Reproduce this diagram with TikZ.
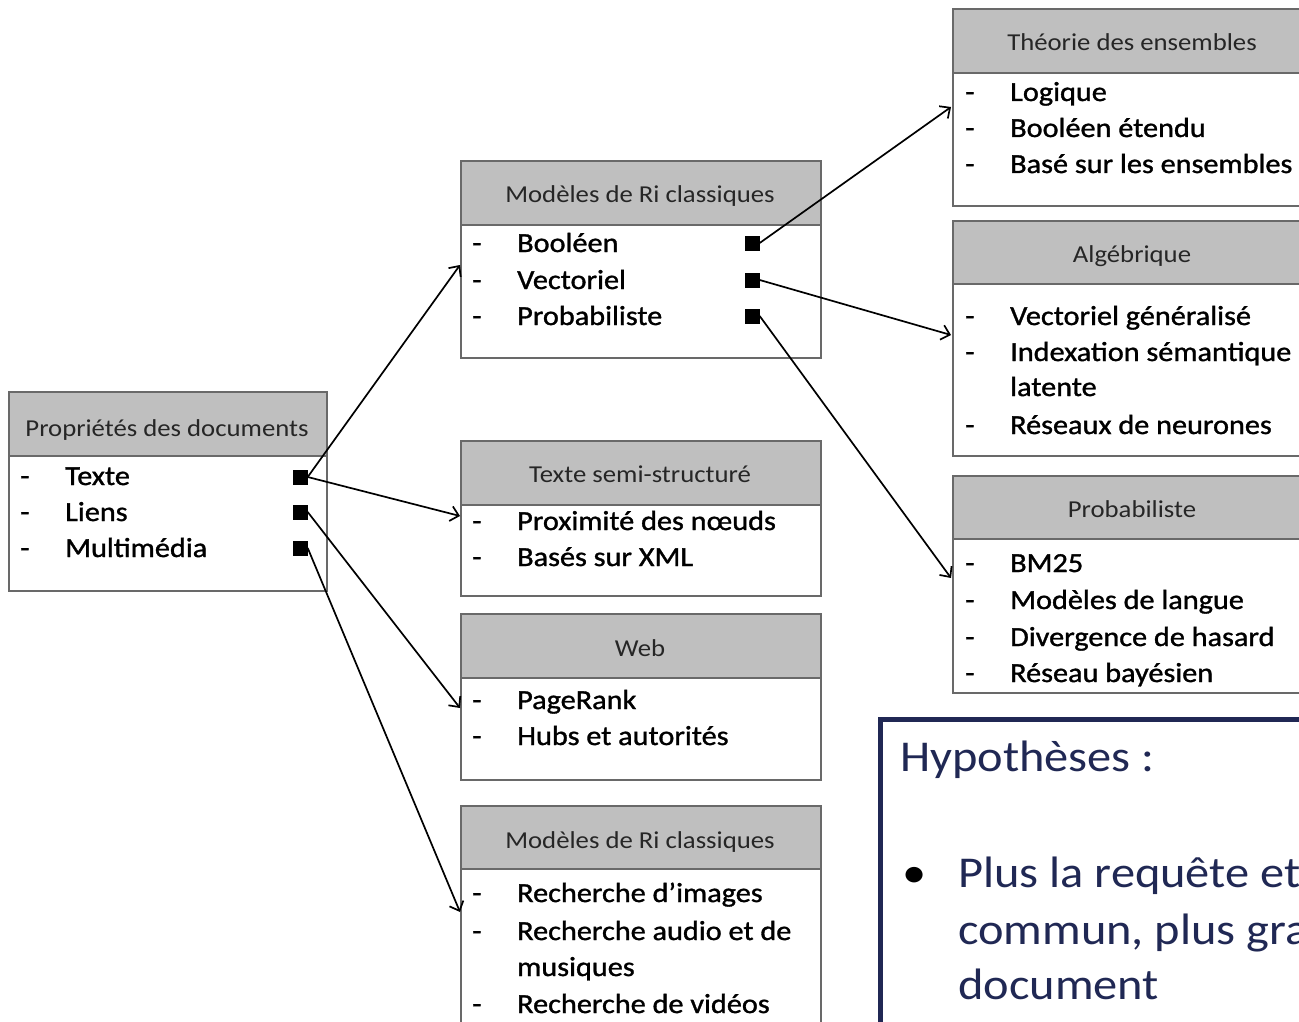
\documentclass[tikz,border=0pt]{standalone}
\usepackage{fontspec}
\setmainfont{Carlito}[FakeStretch=1.1]
\newfontfamily\itemfont{Carlito}[FakeStretch=1.1, FakeBold=1.2]
\usetikzlibrary{arrows.meta}
\definecolor{hdrgray}{RGB}{191,191,191}
\definecolor{boxline}{RGB}{105,105,105}
\definecolor{navy}{RGB}{32,40,84}
\definecolor{hdrtext}{RGB}{38,38,38}
\begin{document}
\begin{tikzpicture}[x=1pt,y=-1pt,
 frame/.style={draw=boxline, line width=1.6pt, fill=white, anchor=north west, inner sep=0},
 hdr/.style={draw=boxline, line width=1.6pt, fill=hdrgray, anchor=north west, inner sep=0},
 htext/.style={anchor=base, font=\fontsize{24.3}{28}\selectfont, text=hdrtext, inner sep=0},
 item/.style={anchor=base west, font=\itemfont\fontsize{27.5}{32}\selectfont, inner sep=0},
 sq/.style={fill=black, minimum size=15pt, inner sep=0, draw=none},
 arr/.style={line width=1.7pt, -{Straight Barb[length=8pt,width=15pt,line width=1.7pt]}},
 hyptext/.style={anchor=base west, font=\fontsize{44}{50}\selectfont, text=navy, inner sep=0}
]
\useasboundingbox (0,0) rectangle (1299,1022);
\clip (0,0) rectangle (1299,1022);

% ---------- Propriétés des documents ----------
\node[frame, minimum width=318pt, minimum height=199pt] (prop) at (8,391) {};
\node[hdr, minimum width=318pt, minimum height=64pt] (propH) at (8,391) {};
\node[htext] (propT) at (167,436) {Propriétés des documents};
\node[item] (p1d) at (20,485) {-}; \node[item] (p1) at (65,485) {Texte};
\node[item] (p2d) at (20,521) {-}; \node[item] (p2) at (65,521) {Liens};
\node[item] (p3d) at (20,557) {-}; \node[item] (p3) at (65,557) {Multimédia};
\node[sq] (sqT) at (300,477) {};
\node[sq] (sqL) at (300,512) {};
\node[sq] (sqM) at (300,548) {};

% ---------- Modèles de Ri classiques (top) ----------
\node[frame, minimum width=360pt, minimum height=197pt] (mA) at (460,160) {};
\node[hdr, minimum width=360pt, minimum height=64pt] (mAH) at (460,160) {};
\node[htext] (mAT) at (640,202) {Modèles de Ri classiques};
\node[item] (a1d) at (472,252) {-}; \node[item] (a1) at (517,252) {Booléen};
\node[item] (a2d) at (472,289) {-}; \node[item] (a2) at (517,289) {Vectoriel};
\node[item] (a3d) at (472,325) {-}; \node[item] (a3) at (517,325) {Probabiliste};
\node[sq] (sqB) at (752,243) {};
\node[sq] (sqV) at (752,280) {};
\node[sq] (sqP) at (752,316) {};

% ---------- Texte semi-structuré ----------
\node[frame, minimum width=360pt, minimum height=155pt] (semi) at (460,440) {};
\node[hdr, minimum width=360pt, minimum height=64pt] (semiH) at (460,440) {};
\node[htext] (semiT) at (640,482) {Texte semi-structuré};
\node[item] (s1d) at (472,530) {-}; \node[item] (s1) at (517,530) {Proximité des nœuds};
\node[item] (s2d) at (472,566) {-}; \node[item] (s2) at (517,566) {Basés sur XML};

% ---------- Web ----------
\node[frame, minimum width=360pt, minimum height=166pt] (web) at (460,613) {};
\node[hdr, minimum width=360pt, minimum height=64pt] (webH) at (460,613) {};
\node[htext] (webT) at (640,656) {Web};
\node[item] (w1d) at (472,709) {-}; \node[item] (w1) at (517,709) {PageRank};
\node[item] (w2d) at (472,745) {-}; \node[item] (w2) at (517,745) {Hubs et autorités};

% ---------- Modèles de Ri classiques (bottom) ----------
\node[frame, minimum width=360pt, minimum height=240pt] (mB) at (460,805) {};
\node[hdr, minimum width=360pt, minimum height=63pt] (mBH) at (460,805) {};
\node[htext] (mBT) at (640,848) {Modèles de Ri classiques};
\node[item] (b1d) at (472,902) {-}; \node[item] (b1) at (517,902) {Recherche d’images};
\node[item] (b2d) at (472,940) {-}; \node[item] (b2) at (517,940) {Recherche audio et de};
\node[item] (b3) at (517,976) {musiques};
\node[item] (b4d) at (472,1013) {-}; \node[item] (b4) at (517,1013) {Recherche de vidéos};

% ---------- Théorie des ensembles ----------
\node[frame, minimum width=360pt, minimum height=197pt] (theo) at (952,8) {};
\node[hdr, minimum width=360pt, minimum height=64pt] (theoH) at (952,8) {};
\node[htext] (theoT) at (1132,51) {Théorie des ensembles};
\node[item] (t1d) at (965,101) {-}; \node[item] (t1) at (1010,101) {Logique};
\node[item] (t2d) at (965,137) {-}; \node[item] (t2) at (1010,137) {Booléen étendu};
\node[item] (t3d) at (965,173) {-}; \node[item] (t3) at (1010,173) {Basé sur les ensembles};

% ---------- Algébrique ----------
\node[frame, minimum width=360pt, minimum height=235pt] (alg) at (952,220) {};
\node[hdr, minimum width=360pt, minimum height=63pt] (algH) at (952,220) {};
\node[htext] (algT) at (1132,262) {Algébrique};
\node[item] (g1d) at (965,325) {-}; \node[item] (g1) at (1010,325) {Vectoriel généralisé};
\node[item] (g2d) at (965,361) {-}; \node[item] (g2) at (1010,361) {Indexation sémantique};
\node[item] (g3) at (1010,396) {latente};
\node[item] (g4d) at (965,434) {-}; \node[item] (g4) at (1010,434) {Réseaux de neurones};

% ---------- Probabiliste ----------
\node[frame, minimum width=360pt, minimum height=217pt] (proba) at (952,475) {};
\node[hdr, minimum width=360pt, minimum height=63pt] (probaH) at (952,475) {};
\node[htext] (probaT) at (1132,517) {Probabiliste};
\node[item] (r1d) at (965,572) {-}; \node[item] (r1) at (1010,572) {BM25};
\node[item] (r2d) at (965,609) {-}; \node[item] (r2) at (1010,609) {Modèles de langue};
\node[item] (r3d) at (965,646) {-}; \node[item] (r3) at (1010,646) {Divergence de hasard};
\node[item] (r4d) at (965,682) {-}; \node[item] (r4) at (1010,682) {Réseau bayésien};

% ---------- Hypothèses ----------
\node[draw=navy, line width=5pt, fill=white, anchor=north west, inner sep=0,
      minimum width=460pt, minimum height=340pt] (hyp) at (878,717) {};
\node[hyptext] (hypT) at (900,771) {Hypothèses :};
\node[hyptext, text=black] (bul) at (902,887) {•};
\node[hyptext] (h1) at (958,887) {Plus la requête et le document ont};
\node[hyptext] (h2) at (958,944) {commun, plus grande est la};
\node[hyptext] (h3) at (958,999) {document};

% ---------- connectors ----------
\coordinate (tA) at (460,265);
\coordinate (tSemi) at (460,516);
\coordinate (tWeb) at (460,708);
\coordinate (tB) at (460,912);
\coordinate (tTheo) at (951,107);
\coordinate (tAlg) at (951,335);
\coordinate (tProba) at (951,578);

\draw[arr] (sqT.east) -- (tA);
\draw[arr] (sqT.east) -- (tSemi);
\draw[arr] (sqL.east) -- (tWeb);
\draw[arr] (sqM.east) -- (tB);
\draw[arr] (sqB.east) -- (tTheo);
\draw[arr] (sqV.east) -- (tAlg);
\draw[arr] (sqP.east) -- (tProba);
\end{tikzpicture}
\end{document}
